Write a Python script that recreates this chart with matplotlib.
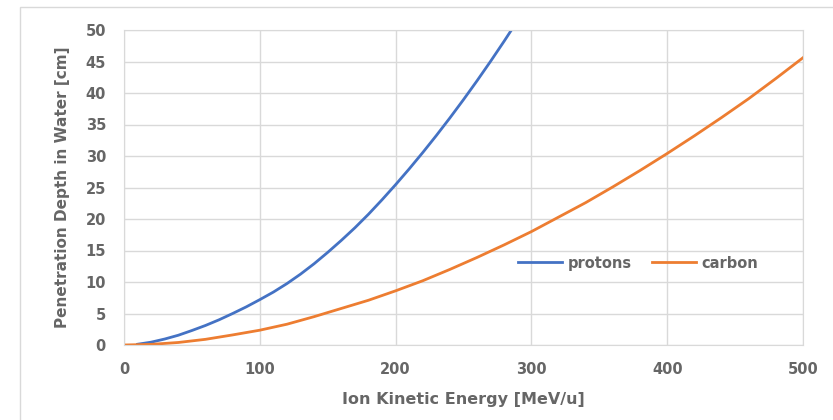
import matplotlib
matplotlib.use("Agg")
import matplotlib.pyplot as plt
from matplotlib.patches import Rectangle

proton_energy = [10, 20, 30, 40, 50, 60, 70, 80, 90, 100, 110, 120, 130, 140, 150, 160, 170, 180,
                 190, 200, 210, 220, 230, 240, 250, 260, 270, 280, 290]
proton_depth = [0.12, 0.45, 0.95, 1.55, 2.3, 3.1, 4.0, 5.0, 6.05, 7.2, 8.4, 9.75, 11.25, 12.9, 14.7, 16.6,
                18.6, 20.75, 23.05, 25.45, 27.95, 30.55, 33.25, 36.05, 38.95, 41.95, 45.05, 48.25, 51.55]

carbon_energy = [0, 20, 40, 60, 80, 100, 120, 140, 160, 180, 200, 220, 240, 260, 280, 300, 320, 340,
                 360, 380, 400, 420, 440, 460, 480, 500]
carbon_depth = [0, 0.1, 0.4, 0.9, 1.6, 2.35, 3.3, 4.5, 5.8, 7.1, 8.6, 10.2, 12.0, 13.9, 15.9, 18.0, 20.3,
                22.6, 25.1, 27.7, 30.4, 33.2, 36.1, 39.1, 42.3, 45.6]

x_ticks = [0, 100, 200, 300, 400, 500]
y_ticks = [0, 5, 10, 15, 20, 25, 30, 35, 40, 45, 50]

plt.rcParams['font.family'] = ['DejaVu Sans']
plt.rcParams['font.weight'] = 'bold'
text_color = '#666666'
grid_color = '#d9d9d9'

fig = plt.figure(figsize=(8.33, 4.2), dpi=100)
fig.patches.append(Rectangle((20/833, -0.1), 1.0, 1.1 - 7/420, transform=fig.transFigure,
                             fill=False, edgecolor=grid_color, linewidth=1.0))
ax = fig.add_axes([124/833, 1 - 345/420, 679/833, 315/420])

ax.plot(proton_energy, proton_depth, color='#4472C4', linewidth=2, label='protons')
ax.plot(carbon_energy, carbon_depth, color='#ED7D31', linewidth=2, label='carbon')

ax.set_xlim(0, 500)
ax.set_ylim(0, 50)
ax.set_xticks(x_ticks)
ax.set_yticks(y_ticks)
ax.grid(True, color=grid_color, linewidth=1)
ax.set_axisbelow(True)
for s in ax.spines.values():
    s.set_color(grid_color)
ax.tick_params(axis='y', length=0, colors=text_color, labelsize=10.5, pad=13)
ax.tick_params(axis='x', length=0, colors=text_color, labelsize=10.5, pad=12)

ax.set_xlabel('Ion Kinetic Energy [MeV/u]', color=text_color, fontsize=11.5, fontweight='bold', labelpad=11)
ax.set_ylabel('Penetration Depth in Water [cm]', color=text_color, fontsize=11, fontweight='bold', labelpad=11)

leg = ax.legend(loc='center', bbox_to_anchor=(0.757, 0.26), ncol=2, frameon=False,
                handlelength=3.0, columnspacing=1.4, handletextpad=0.4,
                prop={'size': 10.5, 'weight': 'bold'})
for t in leg.get_texts():
    t.set_color(text_color)

fig.savefig('out.png', dpi=100)
